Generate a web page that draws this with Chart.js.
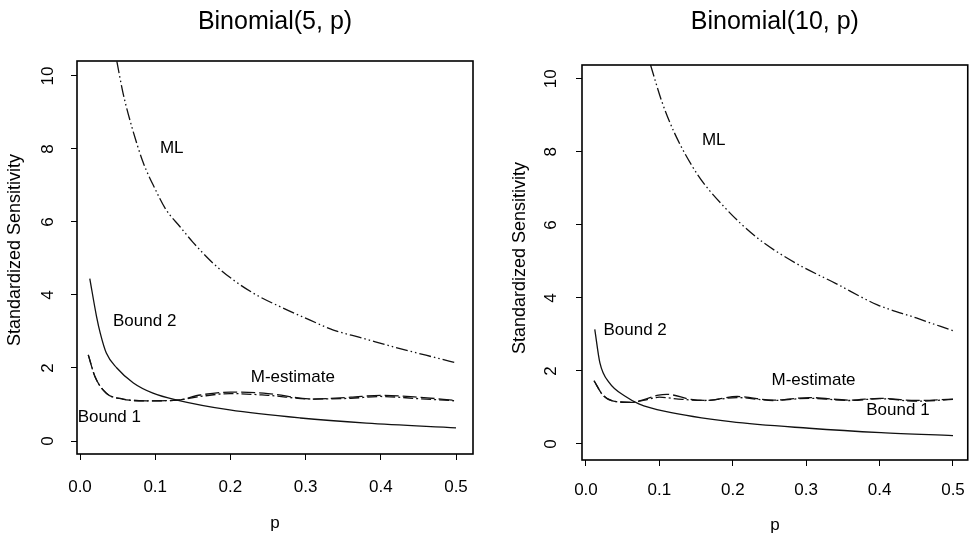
<!DOCTYPE html>
<html lang="en">
<head>
<meta charset="UTF-8">
<title>Standardized Sensitivity - Binomial</title>
<script src="https://cdn.jsdelivr.net/npm/chart.js@4.4.0/dist/chart.umd.min.js"></script>
<style>
  body { margin: 0; background: #fff; }
  #wrap { position: relative; width: 979px; height: 535px; }
  #c5 { position: absolute; left: 0; top: 0; }
  #c10 { position: absolute; left: 490px; top: 0; }
</style>
</head>
<body>
<div id="wrap">
  <canvas id="c5" width="490" height="535"></canvas>
  <canvas id="c10" width="489" height="535"></canvas>
</div>
<script>
// ---- tick labels ----
const xTicks = [0, 0.1, 0.2, 0.3, 0.4, 0.5];
const xTickLabels = ['0.0', '0.1', '0.2', '0.3', '0.4', '0.5'];
const yTicks = [0, 2, 4, 6, 8, 10];
const yTickLabels = ['0', '2', '4', '6', '8', '10'];

// ---- Binomial(5, p) ----
const pML5 = [0.049, 0.057, 0.069, 0.084, 0.100, 0.114, 0.133, 0.150, 0.177, 0.204, 0.233, 0.266, 0.306, 0.337, 0.377, 0.420, 0.460, 0.500];
const ml5  = [10.4, 9.55, 8.60, 7.63, 6.90, 6.35, 5.87, 5.45, 4.87, 4.41, 4.02, 3.68, 3.31, 3.04, 2.81, 2.56, 2.35, 2.14];
const pB2_5 = [0.013, 0.022, 0.027, 0.035, 0.049, 0.071, 0.097, 0.129, 0.199, 0.293, 0.381, 0.500];
const b2_5  = [4.45, 3.41, 2.95, 2.41, 2.00, 1.59, 1.31, 1.12, 0.85, 0.63, 0.49, 0.36];
const pB1_5 = [0.011, 0.020, 0.035, 0.057, 0.089, 0.129, 0.160, 0.200, 0.250, 0.310, 0.360, 0.400, 0.450, 0.500];
const b1_5  = [2.36, 1.76, 1.31, 1.15, 1.10, 1.12, 1.22, 1.30, 1.25, 1.15, 1.17, 1.22, 1.16, 1.10];
const pM5 = [0.011, 0.020, 0.035, 0.057, 0.089, 0.129, 0.160, 0.200, 0.250, 0.310, 0.360, 0.400, 0.450, 0.500];
const m5  = [2.36, 1.76, 1.31, 1.15, 1.10, 1.12, 1.26, 1.34, 1.30, 1.15, 1.20, 1.25, 1.20, 1.11];

// ---- Binomial(10, p) ----
const pML10 = [0.088, 0.103, 0.121, 0.152, 0.188, 0.233, 0.286, 0.340, 0.397, 0.450, 0.500];
const ml10  = [10.38, 9.40, 8.50, 7.38, 6.50, 5.65, 4.95, 4.40, 3.81, 3.45, 3.10];
const pB2_10 = [0.012, 0.019, 0.032, 0.054, 0.072, 0.108, 0.197, 0.304, 0.402, 0.500];
const b2_10  = [3.14, 2.22, 1.67, 1.30, 1.10, 0.89, 0.61, 0.43, 0.31, 0.23];
const pB1_10 = [0.011, 0.023, 0.041, 0.063, 0.080, 0.100, 0.126, 0.161, 0.206, 0.255, 0.304, 0.360, 0.400, 0.450, 0.500];
const b1_10  = [1.73, 1.34, 1.16, 1.14, 1.20, 1.28, 1.23, 1.19, 1.27, 1.19, 1.25, 1.19, 1.24, 1.17, 1.22];
const pM10 = [0.011, 0.023, 0.041, 0.063, 0.080, 0.099, 0.110, 0.143, 0.165, 0.206, 0.255, 0.304, 0.360, 0.400, 0.450, 0.500];
const m10  = [1.73, 1.34, 1.16, 1.14, 1.22, 1.34, 1.36, 1.22, 1.19, 1.30, 1.20, 1.27, 1.20, 1.25, 1.19, 1.23];

const FONT = '"Liberation Sans", Arial, Helvetica, sans-serif';

function pts(xs, ys) {
  return xs.map((x, i) => ({ x: x, y: ys[i] }));
}

function curve(data, dash) {
  return {
    data: data,
    borderColor: '#111',
    borderWidth: 1.3,
    borderDash: dash,
    pointRadius: 0,
    fill: false,
    cubicInterpolationMode: 'monotone'
  };
}

// draws box, titles, rotated y labels and the curve names
const rText = {
  id: 'rText',
  afterDraw(chart, args, o) {
    const ctx = chart.ctx, a = chart.chartArea;
    const xs = chart.scales.x, ys = chart.scales.y;
    ctx.save();
    ctx.strokeStyle = '#000';
    ctx.lineWidth = 1.6;
    ctx.strokeRect(a.left, a.top, a.right - a.left, a.bottom - a.top);

    ctx.fillStyle = '#000';
    ctx.textAlign = 'center';
    ctx.textBaseline = 'middle';
    ctx.font = '25px ' + FONT;
    ctx.fillText(o.title, (a.left + a.right) / 2, 22);

    ctx.font = '17px ' + FONT;
    ctx.fillText('p', (a.left + a.right) / 2, o.pY);

    // y tick labels, rotated like R
    yTicks.forEach((v, i) => {
      ctx.save();
      ctx.translate(a.left - o.yLabGap, ys.getPixelForValue(v));
      ctx.rotate(-Math.PI / 2);
      ctx.fillText(yTickLabels[i], 0, 0);
      ctx.restore();
    });

    ctx.save();
    ctx.translate(o.yTitleX, o.yTitleY);
    ctx.rotate(-Math.PI / 2);
    ctx.font = '18px ' + FONT;
    ctx.fillText('Standardized Sensitivity', 0, 0);
    ctx.restore();

    o.notes.forEach(n => {
      ctx.fillText(n.text, xs.getPixelForValue(n.x), ys.getPixelForValue(n.y));
    });
    ctx.restore();
  }
};

function makeChart(id, sets, cfg) {
  return new Chart(document.getElementById(id), {
    type: 'line',
    data: { datasets: sets },
    options: {
      responsive: false,
      animation: false,
      events: [],
      layout: { padding: { left: 0, top: cfg.top, right: cfg.right, bottom: 0 } },
      plugins: {
        legend: { display: false },
        tooltip: { enabled: false },
        rText: cfg.text
      },
      scales: {
        x: {
          type: 'linear',
          min: cfg.xmin, max: cfg.xmax,
          afterBuildTicks: s => { s.ticks = xTicks.map(v => ({ value: v })); },
          afterFit: s => { s.height = cfg.xAxisH; },
          ticks: {
            callback: (v, i) => xTickLabels[i],
            color: '#000',
            padding: cfg.xPad,
            maxRotation: 0,
            font: { size: 17, family: FONT }
          },
          grid: { drawOnChartArea: false, drawTicks: true, tickLength: 6, color: '#000', lineWidth: 1 },
          border: { display: false }
        },
        y: {
          min: cfg.ymin, max: cfg.ymax,
          afterBuildTicks: s => { s.ticks = yTicks.map(v => ({ value: v })); },
          afterFit: s => { s.width = cfg.yAxisW; },
          ticks: { display: false },
          grid: { drawOnChartArea: false, drawTicks: true, tickLength: 6, color: '#000', lineWidth: 1 },
          border: { display: false }
        }
      }
    },
    plugins: [rText]
  });
}

const dashML = [12, 3, 1.5, 3, 1.5, 3];
const dashB1 = [10, 3, 2, 3];
const dashM = [14, 4];

makeChart('c5', [
  curve(pts(pML5, ml5), dashML),
  curve(pts(pB2_5, b2_5), []),
  curve(pts(pB1_5, b1_5), dashB1),
  curve(pts(pM5, m5), dashM)
], {
  top: 61, right: 17, xAxisH: 81, yAxisW: 77, xPad: 17,
  xmin: -0.004, xmax: 0.5226, ymin: -0.356, ymax: 10.41,
  text: {
    title: 'Binomial(5, p)', pY: 523, yLabGap: 29, yTitleX: 15, yTitleY: 250,
    notes: [
      { text: 'ML', x: 0.122, y: 8.03 },
      { text: 'Bound 2', x: 0.086, y: 3.29 },
      { text: 'M-estimate', x: 0.283, y: 1.75 },
      { text: 'Bound 1', x: 0.039, y: 0.66 }
    ]
  }
});

makeChart('c10', [
  curve(pts(pML10, ml10), dashML),
  curve(pts(pB2_10, b2_10), []),
  curve(pts(pB1_10, b1_10), dashB1),
  curve(pts(pM10, m10), dashM)
], {
  top: 65, right: 5, xAxisH: 75, yAxisW: 92, xPad: 14,
  xmin: -0.0054, xmax: 0.5201, ymin: -0.44, ymax: 10.38,
  text: {
    title: 'Binomial(10, p)', pY: 525, yLabGap: 31, yTitleX: 30, yTitleY: 258,
    notes: [
      { text: 'ML', x: 0.174, y: 8.33 },
      { text: 'Bound 2', x: 0.067, y: 3.12 },
      { text: 'M-estimate', x: 0.310, y: 1.75 },
      { text: 'Bound 1', x: 0.425, y: 0.93 }
    ]
  }
});
</script>
</body>
</html>
